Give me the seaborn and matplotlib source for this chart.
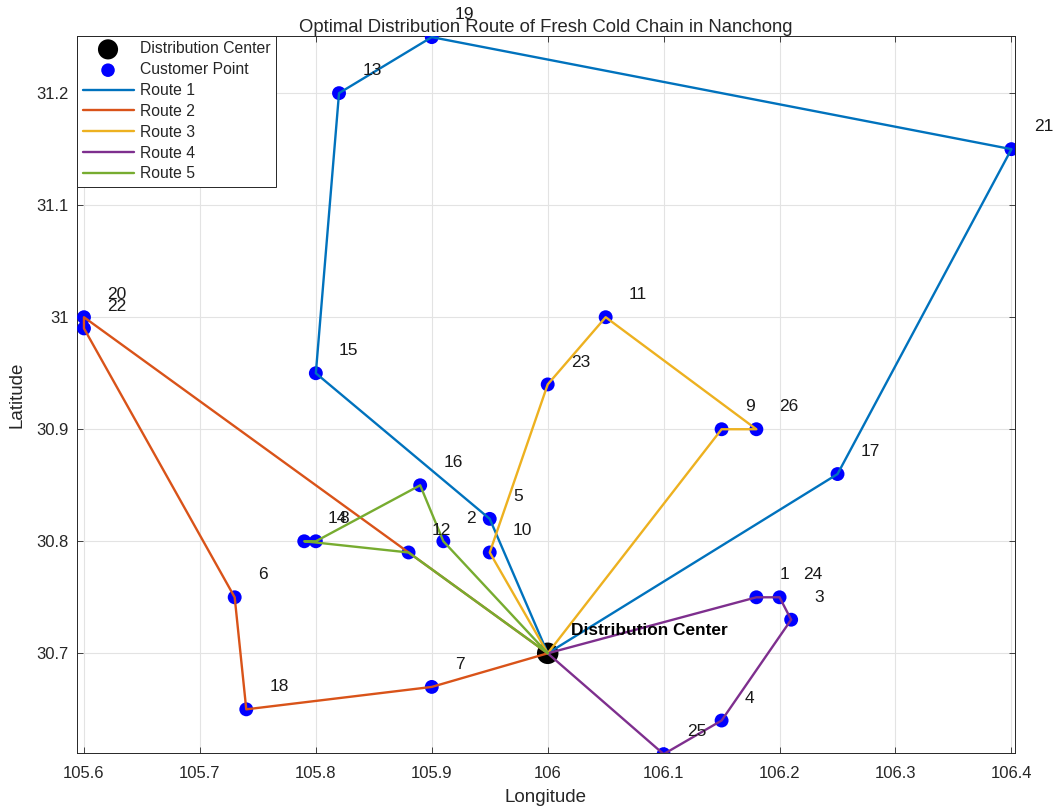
import numpy as np
import pandas as pd
import matplotlib
matplotlib.use("Agg")
import matplotlib.pyplot as plt
import seaborn as sns

# ---- data ----
depot = (106.00, 30.70)
node_ids = [1, 2, 3, 4, 5, 6, 7, 8, 9, 10, 11, 12, 13, 14, 15, 16, 17, 18, 19, 20, 21, 22, 23, 24, 25, 26]
node_lon = [106.18, 105.91, 106.21, 106.15, 105.95, 105.73, 105.90, 105.80, 106.15, 105.95,
            106.05, 105.88, 105.82, 105.79, 105.80, 105.89, 106.25, 105.74, 105.90, 105.60,
            106.40, 105.60, 106.00, 106.20, 106.10, 106.18]
node_lat = [30.75, 30.80, 30.73, 30.64, 30.82, 30.75, 30.67, 30.80, 30.90, 30.79,
            31.00, 30.79, 31.20, 30.80, 30.95, 30.85, 30.86, 30.65, 31.25, 31.00,
            31.15, 30.99, 30.94, 30.75, 30.61, 30.90]
routes = {
    "Route 1": [0, 5, 15, 13, 19, 21, 17, 0],
    "Route 2": [0, 7, 18, 6, 22, 20, 12, 0],
    "Route 3": [0, 10, 23, 11, 26, 9, 0],
    "Route 4": [0, 1, 24, 3, 4, 25, 0],
    "Route 5": [0, 2, 16, 8, 14, 12, 0],
}
route_colors = ["#0072BD", "#D95319", "#EDB120", "#7E2F8E", "#77AC30"]
x_ticks = [105.6, 105.7, 105.8, 105.9, 106.0, 106.1, 106.2, 106.3, 106.4]
x_tick_labels = ["105.6", "105.7", "105.8", "105.9", "106", "106.1", "106.2", "106.3", "106.4"]
y_ticks = [30.7, 30.8, 30.9, 31.0, 31.1, 31.2]
y_tick_labels = ["30.7", "30.8", "30.9", "31", "31.1", "31.2"]

# ---- build tables ----
coords = {0: depot}
for i, lo, la in zip(node_ids, node_lon, node_lat):
    coords[i] = (lo, la)
cust = pd.DataFrame({"id": node_ids, "lon": node_lon, "lat": node_lat})
dep = pd.DataFrame({"lon": [depot[0]], "lat": [depot[1]]})
rows = []
for r, seq in routes.items():
    for k, n in enumerate(seq):
        rows.append({"route": r, "order": k, "lon": coords[n][0], "lat": coords[n][1]})
rdf = pd.DataFrame(rows)

sns.set_theme(style="whitegrid")
plt.rcParams["font.family"] = ["Liberation Sans", "DejaVu Sans"]

fig = plt.figure(figsize=(10.55, 8.09), dpi=100)
ax = fig.add_axes([0.073, 0.0692, 0.889, 0.8863])
ax.set_facecolor("white")

sns.scatterplot(data=dep, x="lon", y="lat", color="black", s=240, edgecolor="none",
                ax=ax, label="Distribution Center", zorder=3)
sns.scatterplot(data=cust, x="lon", y="lat", color="#0000ff", s=100, edgecolor="none",
                ax=ax, label="Customer Point", zorder=3)
for (r, g), c in zip(rdf.groupby("route", sort=True), route_colors):
    sns.lineplot(data=g, x="lon", y="lat", sort=False, estimator=None, color=c,
                 linewidth=1.7, ax=ax, label=r, zorder=4)

for i, lo, la in zip(node_ids, node_lon, node_lat):
    ax.text(lo + 0.02, la + 0.02, str(i), fontsize=12.5, color="#1a1a1a",
            ha="left", va="center", clip_on=False, zorder=5)
ax.text(depot[0] + 0.02, depot[1] + 0.02, "Distribution Center", fontsize=12.4,
        fontweight="bold", color="black", ha="left", va="center", zorder=5)

ax.set_xlim(105.594, 106.403)
ax.set_ylim(30.611, 31.251)
ax.set_xticks(x_ticks)
ax.set_xticklabels(x_tick_labels)
ax.set_yticks(y_ticks)
ax.set_yticklabels(y_tick_labels)
ax.tick_params(axis="both", labelsize=12, colors="#262626", direction="in", length=4,
               width=0.6, bottom=True, left=True, top=True, right=True)
ax.tick_params(axis="x", pad=9)
ax.tick_params(axis="y", pad=6)
ax.tick_params(labelcolor="#262626")
ax.grid(True, color="#e3e3e3", linewidth=0.8)
for sp in ax.spines.values():
    sp.set_visible(True)
    sp.set_color("#262626")
    sp.set_linewidth(0.7)
ax.set_xlabel("Longitude", fontsize=13.5, color="#262626", labelpad=6)
ax.set_ylabel("Latitude", fontsize=13.5, color="#262626", labelpad=8)
ax.set_title("Optimal Distribution Route of Fresh Cold Chain in Nanchong", fontsize=13.3,
             color="#262626", pad=3)

leg = ax.legend(loc="upper left", fontsize=11.3, frameon=True, fancybox=False,
                edgecolor="#262626", framealpha=1, borderaxespad=0, handlelength=3.25,
                labelspacing=0.37, borderpad=0.35, handletextpad=0.4)
leg.get_frame().set_linewidth(0.7)
for h in leg.legend_handles[:2]:
    try:
        h.set_sizes([210] if h.get_label() == "Distribution Center" else [95])
    except Exception:
        pass

fig.savefig("out.png", dpi=100)
